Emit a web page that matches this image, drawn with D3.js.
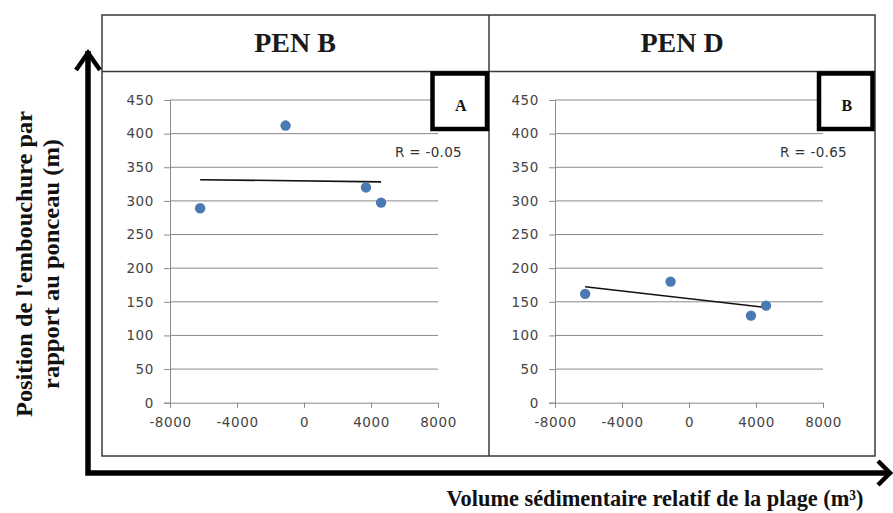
<!DOCTYPE html>
<html>
<head>
<meta charset="utf-8">
<script src="https://cdn.jsdelivr.net/npm/d3@7"></script>
<style>
  body { margin: 0; background: #fff; }
  svg { display: block; }
</style>
</head>
<body>
<svg id="chart" width="893" height="513"></svg>
<script>
// Relative beach sediment volume (m³), shared by both culverts
const volume = [-6200, -1100, 3700, 4600];
// Mouth position relative to the culvert (m)
const penB = [289, 412, 320, 297.5];
const penD = [161.8, 180, 129.5, 144.3];

const panelTitles = ["PEN B", "PEN D"];
const panelTags = ["A", "B"];
const rLabels = ["R = -0.05", "R = -0.65"];
const xTicks = [-8000, -4000, 0, 4000, 8000];
const yTicks = [0, 50, 100, 150, 200, 250, 300, 350, 400, 450];
const yTitle = ["Position de l'embouchure par", "rapport au ponceau (m)"];
const xTitle = "Volume sédimentaire relatif de la plage (m³)";

const svg = d3.select("#chart");
const serif = "'Liberation Serif', 'Times New Roman', serif";
const sans = "'DejaVu Sans', Verdana, sans-serif";

// Least-squares fit
function fit(xs, ys) {
  const mx = d3.mean(xs), my = d3.mean(ys);
  let sxy = 0, sxx = 0;
  xs.forEach((x, i) => { sxy += (x - mx) * (ys[i] - my); sxx += (x - mx) ** 2; });
  const b = sxy / sxx;
  return x => my + b * (x - mx);
}

// Frame table
const T = { left: 102, top: 15, right: 875, bottom: 456, head: 71.5, mid: 489 };
const frame = svg.append("g").attr("stroke", "#3a3a3a").attr("stroke-width", 1.5).attr("fill", "none");
frame.append("rect").attr("x", T.left).attr("y", T.top)
  .attr("width", T.right - T.left).attr("height", T.bottom - T.top);
frame.append("line").attr("x1", T.left).attr("x2", T.right).attr("y1", T.head).attr("y2", T.head);
frame.append("line").attr("x1", T.mid).attr("x2", T.mid).attr("y1", T.top).attr("y2", T.bottom);

const panels = [
  { series: penB, x0: 170, x1: 438, cx: 295, tag: [432.5, 487] },
  { series: penD, x0: 555, x1: 823, cx: 682, tag: [819, 872.5] }
];

const y = d3.scaleLinear().domain([0, 450]).range([402.7, 100]);

panels.forEach((p, i) => {
  const g = svg.append("g");
  const x = d3.scaleLinear().domain([-8000, 8000]).range([p.x0, p.x1]);

  // title
  g.append("text").attr("x", p.cx).attr("y", 52).attr("text-anchor", "middle")
    .attr("font-family", serif).attr("font-weight", "bold").attr("font-size", 28)
    .attr("fill", "#1a1a1a").text(panelTitles[i]);

  // gridlines
  g.append("g").selectAll("line").data(yTicks.filter(d => d > 0)).join("line")
    .attr("x1", p.x0).attr("x2", p.x1).attr("y1", d => y(d)).attr("y2", d => y(d))
    .attr("stroke", "#8a8a8a").attr("stroke-width", 1);

  // y axis
  const ya = g.append("g").attr("transform", `translate(${p.x0},0)`)
    .call(d3.axisLeft(y).tickValues(yTicks).tickSize(6).tickPadding(10));
  ya.select(".domain").attr("stroke", "#8a8a8a");
  ya.selectAll(".tick line").attr("stroke", "#8a8a8a");
  ya.selectAll("text").attr("font-family", sans).attr("font-size", 13.5)
    .attr("fill", "#444").attr("letter-spacing", 0.6);

  // x axis (plain hyphen for negatives)
  const xa = g.append("g").attr("transform", `translate(0,${y(0)})`)
    .call(d3.axisBottom(x).tickValues(xTicks).tickSize(5).tickPadding(10).tickFormat(d => String(d)));
  xa.select(".domain").attr("stroke", "#8a8a8a");
  xa.selectAll(".tick line").attr("stroke", "#8a8a8a");
  xa.selectAll("text").attr("font-family", sans).attr("font-size", 13.5)
    .attr("fill", "#444").attr("letter-spacing", 0.6);

  // trend line over the data range
  const f = fit(volume, p.series);
  const [lo, hi] = d3.extent(volume);
  g.append("line").attr("x1", x(lo)).attr("x2", x(hi))
    .attr("y1", y(f(lo))).attr("y2", y(f(hi)))
    .attr("stroke", "#111").attr("stroke-width", 1.6);

  // points
  g.append("g").selectAll("circle").data(volume).join("circle")
    .attr("cx", d => x(d)).attr("cy", (d, k) => y(p.series[k])).attr("r", 5.2)
    .attr("fill", "#4a79b3");

  // correlation label
  g.append("text").attr("x", p.x1 - 43).attr("y", 157)
    .attr("font-family", sans).attr("font-size", 13.5).attr("fill", "#333")
    .attr("letter-spacing", 0.3).text(rLabels[i]);

  // tag box
  g.append("rect").attr("x", p.tag[0]).attr("y", 73.5)
    .attr("width", p.tag[1] - p.tag[0]).attr("height", 129 - 73.5)
    .attr("fill", "#fff").attr("stroke", "#000").attr("stroke-width", 4.5);
  g.append("text").attr("x", (p.tag[0] + p.tag[1]) / 2 + 1).attr("y", 111)
    .attr("text-anchor", "middle").attr("font-family", serif).attr("font-weight", "bold")
    .attr("font-size", 16).attr("fill", "#111").text(panelTags[i]);
});

// Thick axis arrows around the table
const arrows = svg.append("g").attr("stroke", "#000").attr("fill", "none")
  .attr("stroke-width", 5.5).attr("stroke-linejoin", "miter");
arrows.append("path").attr("d", "M88,51 L88,473 L889,473");
arrows.append("path").attr("d", "M76,70 L88,53 L100,70").attr("stroke-width", 4.5);
arrows.append("path").attr("d", "M878,461 L890,473 L878,485").attr("stroke-width", 4.5);

// Axis titles
const yt = svg.append("g").attr("font-family", serif).attr("font-weight", "bold")
  .attr("font-size", 24).attr("fill", "#111").attr("text-anchor", "middle");
yt.append("text").attr("transform", "translate(32,264) rotate(-90)")
  .attr("textLength", 306).attr("lengthAdjust", "spacingAndGlyphs").text(yTitle[0]);
yt.append("text").attr("transform", "translate(59,264) rotate(-90)")
  .attr("textLength", 250).attr("lengthAdjust", "spacingAndGlyphs").text(yTitle[1]);

svg.append("text").attr("x", 655).attr("y", 506).attr("text-anchor", "middle")
  .attr("font-family", serif).attr("font-weight", "bold").attr("font-size", 23)
  .attr("fill", "#111").attr("textLength", 417).attr("lengthAdjust", "spacingAndGlyphs")
  .text(xTitle);
</script>
</body>
</html>
